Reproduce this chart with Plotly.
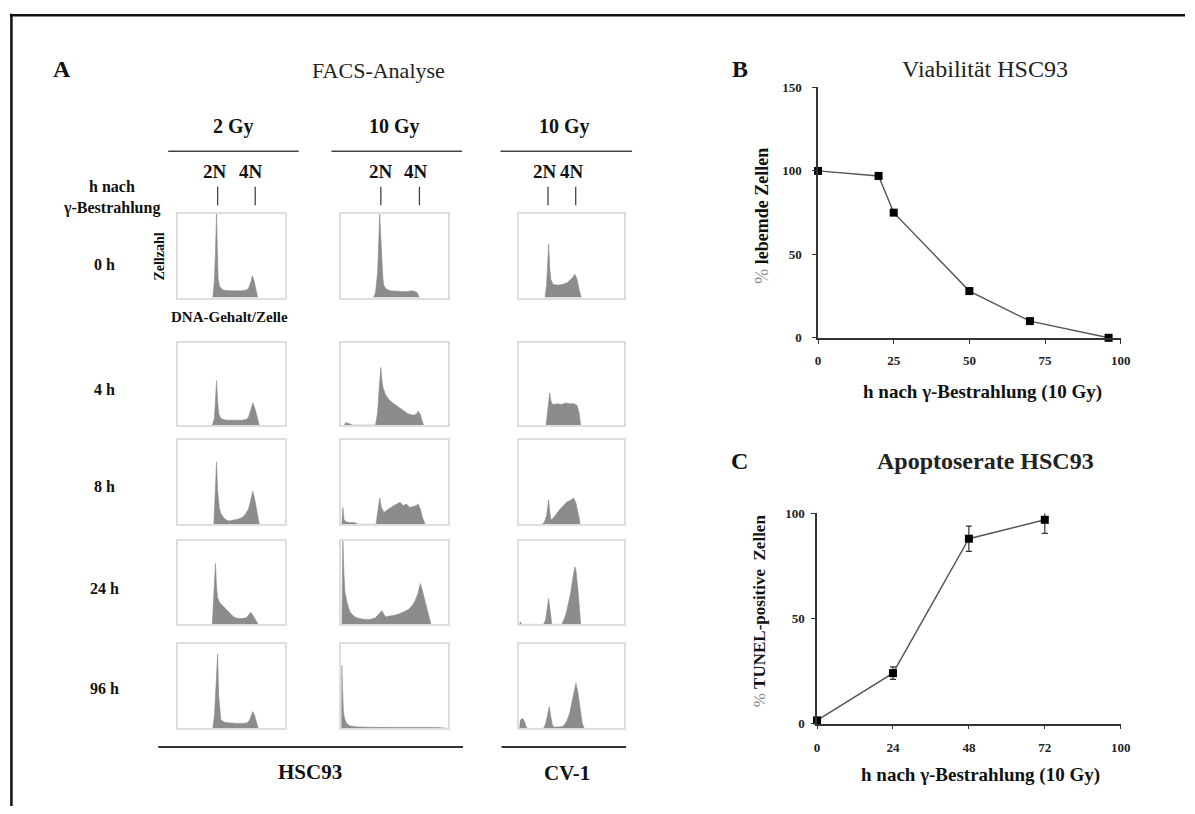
import plotly.graph_objects as go

W, H = 1195, 814

# ---------------- DATA ----------------
col_headers = ["2 Gy", "10 Gy", "10 Gy"]
row_labels = ["0 h", "4 h", "8 h", "24 h", "96 h"]
cell_lines = ["HSC93", "CV-1"]

# FACS histograms (x: DNA channel 0-100, y: cell count, 100 = frame top)
h_2gy_0h_x = [32.5, 34, 35, 36, 36.8, 37.5, 39, 42, 48, 55, 60, 64, 66, 68, 69.5, 71, 72.5, 73.5, 74.5]
h_2gy_0h_y = [0, 20, 55, 100, 55, 22, 13, 9, 8, 8, 8, 9, 11, 18, 26, 21, 10, 4, 0]
h_2gy_4h_x = [32, 34, 35, 36, 37, 38, 40, 45, 50, 55, 60, 64, 66, 68, 70, 72, 74, 75, 76]
h_2gy_4h_y = [0, 8, 30, 54, 30, 14, 8, 6, 6, 6, 6, 7, 10, 18, 27, 20, 8, 3, 0]
h_2gy_8h_x = [33.5, 35, 36, 37, 38.5, 40, 42, 45, 48, 52, 56, 60, 63, 66, 68, 70, 72, 74, 75, 76]
h_2gy_8h_y = [0, 40, 74, 40, 20, 13, 9, 5, 4, 5, 6, 8, 12, 18, 28, 39, 28, 12, 4, 0]
h_2gy_24h_x = [32, 34, 35, 36, 37, 39, 42, 45, 48, 52, 56, 60, 64, 66, 68, 70, 72, 74, 75]
h_2gy_24h_y = [0, 45, 73, 45, 32, 26, 22, 19, 14, 9, 7, 7, 8, 11, 14.5, 11, 6, 2, 0]
h_2gy_96h_x = [32.5, 34, 35.5, 37, 38, 39, 40, 44, 50, 55, 60, 64.5, 67, 69, 70, 71.5, 73, 74, 75]
h_2gy_96h_y = [0, 15, 50, 88, 40, 18, 10, 7, 6, 6, 6, 6.5, 10, 17, 20, 16, 8, 3, 0]

h_10gy_0h_x = [30, 32, 34, 35, 36, 37, 38, 39, 40, 42, 46, 50, 55, 60, 64, 66, 68, 70, 71, 72, 73]
h_10gy_0h_y = [0, 5, 30, 70, 100, 72, 40, 22, 14, 10, 8, 7.5, 7, 7, 7.5, 8, 7.5, 7, 6, 3, 0]
h_10gy_4h_x = [3, 4, 7, 10, 11, 32, 34, 35.5, 37, 38, 39, 41, 44, 47, 52, 57, 62, 67, 70, 72, 74, 75.5, 77]
h_10gy_4h_y = [0, 3, 2, 1, 0, 0, 15, 45, 70, 55, 46, 38, 32, 28, 23, 18, 14, 12, 13, 17, 13, 6, 0]
h_10gy_8h_x = [0.5, 1.5, 2.5, 4, 8, 12, 14.5, 15, 32.5, 34.5, 36, 37.5, 40, 43, 46, 49, 52, 55, 58, 61, 64, 67, 70, 72, 74, 76, 78.5]
h_10gy_8h_y = [0, 20, 6, 3, 2, 2, 1, 0, 0, 15, 31, 20, 14, 17, 20, 22, 24, 26, 22, 24, 20, 21, 22, 24, 18, 8, 0]
h_10gy_24h_x = [0.5, 1.5, 2.5, 3.5, 5.5, 8, 12.6, 17, 22, 27, 32, 35, 38, 40, 41.6, 45, 50, 55, 60, 63, 66, 69, 72, 74, 76, 78, 80, 82, 84]
h_10gy_24h_y = [0, 100, 60, 38, 26, 15, 9, 7, 6, 6, 8, 12, 16.5, 12, 9, 10, 11, 13, 16, 18, 22, 28, 38, 49, 40, 30, 18, 8, 0]
h_10gy_96h_x = [0, 0.5, 1.2, 2, 3, 5, 8, 15, 30, 50, 70, 90, 100]
h_10gy_96h_y = [0, 75, 45, 20, 12, 6, 3, 1.8, 1.3, 1.2, 1.2, 1.2, 0]

h_cv1_0h_x = [24.5, 26, 27, 28, 29, 30, 32, 35, 38, 42, 46, 49, 51, 53, 55, 57, 59]
h_cv1_0h_y = [0, 15, 40, 64, 35, 22, 16, 15, 15, 16, 18, 22, 24, 28, 22, 10, 0]
h_cv1_4h_x = [25.5, 27, 28, 29, 30, 31, 33, 36, 40, 44, 48, 52, 55, 57, 58.5]
h_cv1_4h_y = [0, 15, 28, 39, 30, 26, 25, 26, 25, 27, 26, 26, 24, 15, 0]
h_cv1_8h_x = [22, 24, 26, 27, 28, 29, 30, 32, 35, 39, 42, 45, 48, 50, 52, 54, 56, 57, 58]
h_cv1_8h_y = [0, 3, 10, 18, 29, 15, 5, 7, 12, 18, 22, 26, 28, 30, 31, 25, 15, 8, 0]
h_cv1_24h_x = [0, 1, 2, 23, 25, 27, 28, 29, 30, 31, 40.5, 43, 45, 47, 49, 51, 52, 53, 54, 55, 56, 57, 58.5]
h_cv1_24h_y = [0, 3, 0, 0, 5, 20, 31, 20, 8, 0, 0, 7, 15, 25, 38, 55, 64, 69, 65, 55, 40, 25, 0]
h_cv1_96h_x = [0, 1, 3, 5, 6.5, 8, 23, 25, 27, 28.5, 30, 31.5, 33, 36, 40, 42, 45, 48, 50, 52, 54, 56, 58, 60, 62]
h_cv1_96h_y = [0, 10, 12, 8, 2, 0, 0, 5, 16, 26, 14, 4, 1.5, 1.5, 2, 3, 8, 18, 30, 44, 53.5, 42, 22, 6, 0]

# Panel B: viability
viab_hours = [0, 20, 25, 50, 70, 96]
viab_pct = [100, 97, 75, 28, 10, 0]
viab_xticks = [0, 25, 50, 75, 100]
viab_yticks = [0, 50, 100, 150]

# Panel C: apoptosis rate
apo_hours = [0, 24, 48, 72]
apo_pct = [1.5, 24, 88, 97]
apo_err = [1.5, 3, 6, 6.5]
apo_xticks = [0, 24, 48, 72, 96]
apo_xticktext = ["0", "24", "48", "72", "100"]
apo_yticks = [0, 50, 100]

# ---------------- LAYOUT HELPERS ----------------
def fx(px):
    return px / W

def fy(py):
    return 1 - py / H

FONT = "Liberation Serif"
HIST_FILL = "#8c8c8c"
BOX_LINE = "#dedede"

col_px = [(177, 285), (342, 450), (522, 628)]
row_px = [(211, 296), (342, 426), (441, 527), (544, 629), (649, 735)]

hists = [
    [(h_2gy_0h_x, h_2gy_0h_y), (h_10gy_0h_x, h_10gy_0h_y), (h_cv1_0h_x, h_cv1_0h_y)],
    [(h_2gy_4h_x, h_2gy_4h_y), (h_10gy_4h_x, h_10gy_4h_y), (h_cv1_4h_x, h_cv1_4h_y)],
    [(h_2gy_8h_x, h_2gy_8h_y), (h_10gy_8h_x, h_10gy_8h_y), (h_cv1_8h_x, h_cv1_8h_y)],
    [(h_2gy_24h_x, h_2gy_24h_y), (h_10gy_24h_x, h_10gy_24h_y), (h_cv1_24h_x, h_cv1_24h_y)],
    [(h_2gy_96h_x, h_2gy_96h_y), (h_10gy_96h_x, h_10gy_96h_y), (h_cv1_96h_x, h_cv1_96h_y)],
]

fig = go.Figure()
layout = dict(
    width=W, height=H, margin=dict(l=0, r=0, t=0, b=0),
    paper_bgcolor="white", plot_bgcolor="white", showlegend=False,
    font=dict(family=FONT, color="#111"),
)

idx = 0
for r, row in enumerate(hists):
    for c, (hx, hy) in enumerate(row):
        idx += 1
        sfx = "" if idx == 1 else str(idx)
        x0, x1 = col_px[c]
        y0, y1 = row_px[r]
        layout["xaxis" + sfx] = dict(
            domain=[fx(x0), fx(x1)], range=[0, 100], anchor="y" + sfx,
            showline=True, mirror=True, linecolor=BOX_LINE, linewidth=1.5,
            showticklabels=False, ticks="", showgrid=False, zeroline=False,
        )
        layout["yaxis" + sfx] = dict(
            domain=[fy(y1), fy(y0)], range=[0, 100], anchor="x" + sfx,
            showline=True, mirror=True, linecolor=BOX_LINE, linewidth=1.5,
            showticklabels=False, ticks="", showgrid=False, zeroline=False,
        )
        fig.add_trace(go.Scatter(
            x=hx, y=hy, xaxis="x" + sfx, yaxis="y" + sfx, mode="lines",
            fill="tozeroy", fillcolor=HIST_FILL,
            line=dict(color=HIST_FILL, width=0.6), hoverinfo="skip",
        ))

# Panel B axes (16) and C axes (17)
axis_common = dict(
    showline=True, linecolor="#333", linewidth=1.5, ticks="outside",
    ticklen=4, tickcolor="#333", showgrid=False, zeroline=False,
    tickfont=dict(family=FONT, size=13, color="#222", weight="bold"),
)
layout["xaxis16"] = dict(axis_common, domain=[fx(824), fx(1130)], range=[0, 100],
                         anchor="y16", tickvals=viab_xticks, ticklabelstandoff=6)
layout["yaxis16"] = dict(axis_common, domain=[fy(337), fy(82)], range=[0, 150],
                         anchor="x16", tickvals=viab_yticks, ticklabelstandoff=8)
layout["xaxis17"] = dict(axis_common, domain=[fx(823), fx(1130)], range=[0, 96],
                         anchor="y17", tickvals=apo_xticks, ticktext=apo_xticktext,
                         ticklabelstandoff=7)
layout["yaxis17"] = dict(axis_common, domain=[fy(730), fy(516)], range=[0, 100],
                         anchor="x17", tickvals=apo_yticks, ticklabelstandoff=4)

fig.add_trace(go.Scatter(
    x=viab_hours, y=viab_pct, xaxis="x16", yaxis="y16", mode="lines+markers",
    line=dict(color="#555", width=1.4),
    marker=dict(symbol="square", size=8, color="#000"), cliponaxis=False,
))
fig.add_trace(go.Scatter(
    x=apo_hours, y=apo_pct, xaxis="x17", yaxis="y17", mode="lines+markers",
    line=dict(color="#555", width=1.4),
    marker=dict(symbol="square", size=8, color="#000"), cliponaxis=False,
    error_y=dict(type="data", array=apo_err, visible=True, color="#333",
                 thickness=1.2, width=3),
))

# ---------------- ANNOTATIONS ----------------
anns = []

def ann(text, x, y, size, bold=True, angle=0, color="#111", xanchor="center"):
    anns.append(dict(
        text=(f"<b>{text}</b>" if bold else text), x=fx(x), y=fy(y),
        xref="paper", yref="paper", showarrow=False, textangle=angle,
        xanchor=xanchor, yanchor="middle",
        font=dict(family=FONT, size=size, color=color),
    ))

ann("A", 60, 63, 24)
ann("FACS-Analyse", 380, 65, 22, bold=False, color="#222")
ann("B", 745, 63, 24)
ann("Viabilität HSC93", 993, 63, 24, bold=False, color="#222")
ann("C", 745, 463, 24)
ann("Apoptoserate HSC93", 993, 463, 24, color="#222")

header_x = [233, 396, 568]
for hx_, t in zip(header_x, col_headers):
    ann(t, hx_, 122, 20)

ploidy = [(214, 251), (382, 418), (548, 575)]
for (a, b) in ploidy:
    ann("2N", a, 168, 19)
    ann("4N", b, 168, 19)

ann("h nach", 110, 183, 16)
ann("γ-Bestrahlung", 110, 205, 16)
row_label_y = [262, 390, 488, 592, 694]
for t, yy in zip(row_labels, row_label_y):
    ann(t, 103, yy, 16)

ann("Zellzahl", 158, 254, 14, angle=-90)
ann("DNA-Gehalt/Zelle", 229, 316, 15)
ann(cell_lines[0], 310, 779, 21)
ann(cell_lines[1], 570, 780, 21)

ann("<span style='color:#888;font-weight:normal'>%</span> <b>lebemde Zellen</b>",
    767, 213, 18, bold=False, angle=-90)
ann("h nach γ-Bestrahlung (10 Gy)", 990, 392, 19)
ann("<span style='color:#888;font-weight:normal'>%</span> <b>TUNEL-positive  Zellen</b>",
    765, 615, 17, bold=False, angle=-90)
ann("h nach γ-Bestrahlung (10 Gy)", 988, 782, 19)

layout["annotations"] = anns

# ---------------- SHAPES ----------------
shapes = []

def pline(x0, y0, x1, y1, color="#333", width=1.5):
    shapes.append(dict(type="line", xref="paper", yref="paper",
                       x0=fx(x0), y0=fy(y0), x1=fx(x1), y1=fy(y1),
                       line=dict(color=color, width=width)))

# outer frame (top and left)
pline(7, 8.5, 1195, 8.5, color="#111", width=2.5)
pline(8.5, 7, 8.5, 814, color="#111", width=2.5)

# header underlines
for (a, b) in [(167, 299), (332, 464), (503, 636)]:
    pline(a, 147, b, 147, color="#444", width=1.5)

# 2N / 4N marker ticks
for (a, b) in [(217, 255), (382, 421), (551, 579)]:
    pline(a, 183, a, 202, color="#444", width=1.3)
    pline(b, 183, b, 202, color="#444", width=1.3)

# cell-line underlines
pline(157, 754, 465, 754, color="#333", width=2)
pline(504, 754, 630, 754, color="#333", width=2)

layout["shapes"] = shapes

fig.update_layout(**layout)
fig.write_html("out.html")
